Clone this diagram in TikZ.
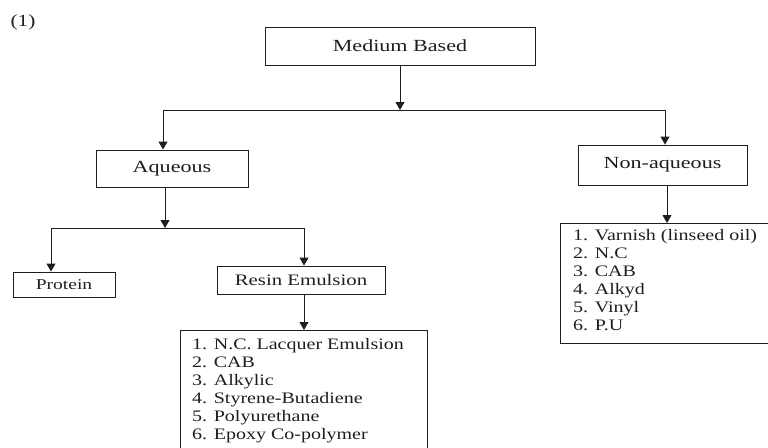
\documentclass[tikz,border=0pt]{standalone}
\usepackage{fontspec}
\setmainfont{Liberation Serif}
\newfontfamily\boxfont[FakeStretch=1.3]{Liberation Serif}
\newfontfamily\listfont[FakeStretch=1.25]{Liberation Serif}
\usetikzlibrary{arrows.meta,calc}
\definecolor{ink}{HTML}{1E1E1E}
\tikzset{
  box/.style={draw=ink, line width=0.9pt, inner sep=0pt, text=ink,
    font=\boxfont\fontsize{17}{20}\selectfont},
  listbox/.style={draw=ink, line width=0.9pt, inner sep=0pt, anchor=north west},
  listtext/.style={anchor=north west, inner sep=0pt, align=left, text=ink,
    font=\listfont\fontsize{16}{18}\selectfont},
  link/.style={draw=ink, line width=0.9pt},
  arr/.style={link, -{Triangle[width=9pt,length=8pt]}}
}
\begin{document}
\begin{tikzpicture}[x=1pt,y=-1pt]
\useasboundingbox (0,0) rectangle (768,447);
\clip (0,0) rectangle (768,447);

% figure number
\node[text=ink, font=\listfont\fontsize{17}{19}\selectfont] (num) at (23,22) {(1)};

% category boxes
\node[box, minimum width=270, minimum height=38] (medium) at (400,46) {Medium Based};
\node[box, minimum width=152, minimum height=37] (aqueous) at (172,168.5) {Aqueous};
\node[box, minimum width=169, minimum height=40] (nonaq) at (662.5,165) {Non-aqueous};
\node[box, minimum width=102, minimum height=25,
      font=\boxfont\fontsize{15}{18}\selectfont] (protein) at (64,284.5) {Protein};
\node[box, minimum width=168, minimum height=28,
      font=\boxfont\fontsize{16}{18}\selectfont] (resin) at (301,280) {Resin Emulsion};

% list boxes (running past the page edge)
\node[listbox, minimum width=247, minimum height=140] (rlist) at (180,330) {};
\node[listtext] (rtext) at ($(rlist.north west)+(12,8)$)
  {1. N.C. Lacquer Emulsion\\2. CAB\\3. Alkylic\\4. Styrene-Butadiene\\5. Polyurethane\\6. Epoxy Co-polymer};
\node[listbox, minimum width=215, minimum height=120] (nlist) at (560,223) {};
\node[listtext] (ntext) at ($(nlist.north west)+(13,6)$)
  {1. Varnish (linseed oil)\\2. N.C\\3. CAB\\4. Alkyd\\5. Vinyl\\6. P.U};

% top level split
\coordinate (j1) at (400,110);
\coordinate (j1l) at (163,110);
\coordinate (j1r) at (665,110);
\draw[arr] (medium.south) -- (j1);
\draw[link] (j1l) -- (j1r);
\draw[arr] (j1l) -- (j1l |- aqueous.north);
\draw[arr] (j1r) -- (j1r |- nonaq.north);

% aqueous split
\coordinate (j2) at (165,228);
\coordinate (j2l) at (51,228);
\coordinate (j2r) at (304,228);
\draw[arr] (aqueous.south -| j2) -- (j2);
\draw[link] (j2l) -- (j2r);
\draw[arr] (j2l) -- (j2l |- protein.north);
\draw[arr] (j2r) -- (j2r |- resin.north);

% down to the lists
\draw[arr] (resin.south -| j2r) -- (j2r |- rlist.north);
\draw[arr] (nonaq.south -| 667,0) -- (667,223);
\end{tikzpicture}
\end{document}
